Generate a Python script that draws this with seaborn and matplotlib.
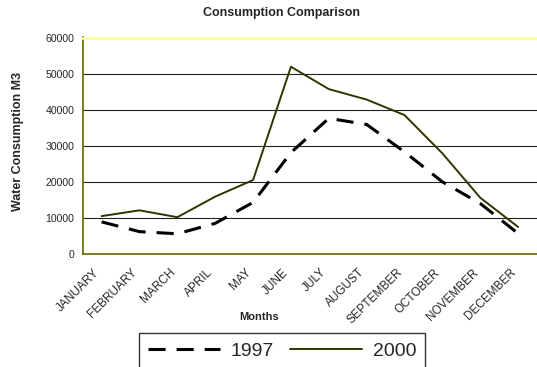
import matplotlib
matplotlib.use("Agg")
import matplotlib.pyplot as plt
import matplotlib.transforms as mtransforms
import numpy as np
import pandas as pd
import seaborn as sns

months = ["JANUARY", "FEBRUARY", "MARCH", "APRIL", "MAY", "JUNE", "JULY",
          "AUGUST", "SEPTEMBER", "OCTOBER", "NOVEMBER", "DECEMBER"]
usage_1997 = [8900, 6200, 5600, 8500, 14300, 28100, 37600, 35900, 28300, 20000, 14000, 5700]
usage_2000 = [10500, 12100, 10200, 15900, 20500, 51900, 45700, 42800, 38500, 27900, 15600, 7500]
y_ticks = [0, 10000, 20000, 30000, 40000, 50000, 60000]

sns.set_theme(style="white")
plt.rcParams["font.family"] = ["Liberation Sans", "DejaVu Sans"]

df = pd.DataFrame({
    "Month": months * 2,
    "pos": list(range(12)) * 2,
    "Usage": usage_1997 + usage_2000,
    "Year": ["1997"] * 12 + ["2000"] * 12,
})

fig = plt.figure(figsize=(5.37, 3.67), dpi=100)
ax = fig.add_axes([82.7 / 537, 1 - 254 / 367, (537 - 82.7) / 537, (254 - 37.5) / 367])

olive = "#333300"
for y in y_ticks[1:-1]:
    ax.axhline(y, color="#222222", lw=0.8, zorder=0)

sns.lineplot(data=df[df.Year == "1997"], x="pos", y="Usage", ax=ax,
             color="black", linewidth=2.2, label="1997")
sns.lineplot(data=df[df.Year == "2000"], x="pos", y="Usage", ax=ax,
             color=olive, linewidth=1.4, label="2000")
ax.lines[-2].set_dashes((5.6, 3.6))

ax.set_xlim(-0.5, 11.5)
ax.set_ylim(0, 60000)
ax.set_yticks(y_ticks)
ax.set_yticklabels([str(v) for v in y_ticks], fontsize=7.6)

# tick marks sit between months, labels sit on the month centres
ax.set_xticks(np.arange(-0.5, 12, 1.0))
ax.set_xticklabels([])
ax.set_xticks(range(12), minor=True)
ax.set_xticklabels(months, minor=True, rotation=45, ha="right", va="center",
                   rotation_mode="anchor", fontsize=8.5)
ax.tick_params(axis="x", which="minor", length=0, pad=12)
ax.tick_params(axis="x", which="major", length=4, width=0.8, color="black", direction="out")
ax.tick_params(axis="y", length=4, width=0.8, color="black", direction="out", pad=2)
shift = mtransforms.ScaledTranslation(-4 / 100, 0, fig.dpi_scale_trans)
for lbl in ax.get_xticklabels(minor=True):
    lbl.set_transform(lbl.get_transform() + shift)

for side in ["left", "bottom"]:
    ax.spines[side].set_color("#666600")
    ax.spines[side].set_linewidth(1.2)
ax.spines["top"].set_color("#ffff99")
ax.spines["top"].set_linewidth(2.0)
ax.spines["right"].set_visible(False)

ax.set_xlabel("Months", fontsize=8, fontweight="bold")
ax.xaxis.set_label_coords((259 - 82.7) / 454.3, -0.27)
ax.set_ylabel("Water Consumption M3", fontsize=9, fontweight="bold")
ax.yaxis.set_label_coords(-0.129, 0.52)
fig.text(281.7 / 537, 1 - 13 / 367, "Consumption Comparison", fontsize=9,
         fontweight="bold", ha="center", va="center")

ax.get_legend().remove()
handles = ax.lines[-2:]
leg = fig.legend(handles, ["1997", "2000"], loc="upper left",
                 bbox_to_anchor=(139.3 / 537, 1 - 333.3 / 367), ncol=2,
                 fontsize=14, frameon=True, fancybox=False, handlelength=3.7,
                 handletextpad=0.55, columnspacing=0.85, borderpad=0.45,
                 borderaxespad=0)
leg.get_frame().set_edgecolor("black")
leg.get_frame().set_linewidth(1.0)

fig.savefig("out.png", dpi=100)
